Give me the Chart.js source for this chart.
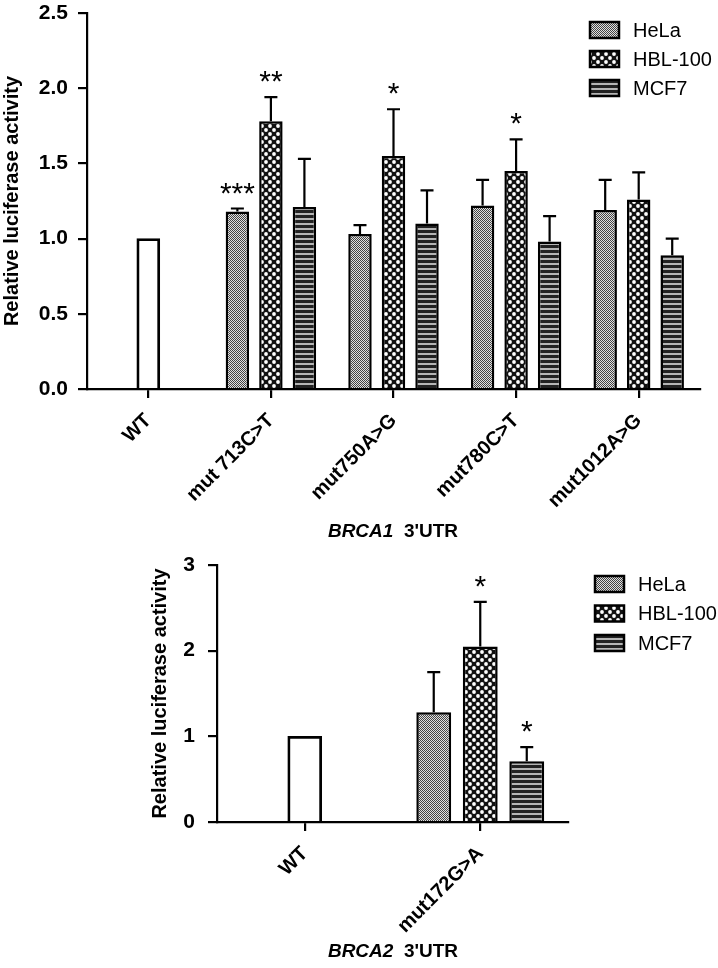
<!DOCTYPE html>
<html>
<head>
<meta charset="utf-8">
<script src="https://cdn.jsdelivr.net/npm/chart.js@4.4.1/dist/chart.umd.min.js"></script>
<style>
  body { margin: 0; background: #fff; }
  #wrap { position: relative; width: 718px; height: 968px; }
  canvas { position: absolute; left: 0; }
  #brca1 { top: 0; }
  #brca2 { top: 530px; }
</style>
</head>
<body>
<div id="wrap">
  <canvas id="brca1" width="718" height="560"></canvas>
  <canvas id="brca2" width="718" height="438"></canvas>
</div>
<script>
const FONT = '"Liberation Sans", Arial, Helvetica, sans-serif';

// BRCA1 3'UTR
const labels1 = ["WT", "mut 713C>T", "mut750A>G", "mut780C>T", "mut1012A>G"];
const wt1 = [1.0, null, null, null, null];
const hela1 = [null, 1.18, 1.03, 1.22, 1.19];
const hela1Err = [null, 0.02, 0.06, 0.17, 0.20];
const hela1Sig = ["", "***", "", "", ""];
const hbl1 = [null, 1.78, 1.55, 1.45, 1.26];
const hbl1Err = [null, 0.16, 0.31, 0.21, 0.18];
const hbl1Sig = ["", "**", "*", "*", ""];
const mcf1 = [null, 1.21, 1.10, 0.98, 0.89];
const mcf1Err = [null, 0.32, 0.22, 0.17, 0.11];
const mcf1Sig = ["", "", "", "", ""];
const yTicks1 = [0, 0.5, 1.0, 1.5, 2.0, 2.5];

// BRCA2 3'UTR
const labels2 = ["WT", "mut172G>A"];
const wt2 = [1.0, null];
const hela2 = [null, 1.28];
const hela2Err = [null, 0.47];
const hela2Sig = ["", ""];
const hbl2 = [null, 2.05];
const hbl2Err = [null, 0.52];
const hbl2Sig = ["", "*"];
const mcf2 = [null, 0.71];
const mcf2Err = [null, 0.165];
const mcf2Sig = ["", "*"];
const yTicks2 = [0, 1, 2, 3];

function tile(ctx, w, h, draw) {
  const c = document.createElement('canvas');
  c.width = w; c.height = h;
  draw(c.getContext('2d'));
  return ctx.createPattern(c, 'repeat');
}

function patterns(ctx) {
  return {
    hela: tile(ctx, 2, 2, g => {
      g.fillStyle = '#e0e0e0'; g.fillRect(0, 0, 2, 2);
      g.fillStyle = '#444'; g.fillRect(0, 0, 1, 1); g.fillRect(1, 1, 1, 1);
    }),
    hbl: tile(ctx, 8, 8, g => {
      g.fillStyle = '#111'; g.fillRect(0, 0, 8, 8);
      g.fillStyle = '#fff';
      [[2, 2], [6, 6]].forEach(p => { g.beginPath(); g.arc(p[0], p[1], 1.9, 0, Math.PI * 2); g.fill(); });
    }),
    mcf: tile(ctx, 1, 5, g => {
      g.fillStyle = '#222'; g.fillRect(0, 0, 1, 5);
      g.fillStyle = '#b5b5b5'; g.fillRect(0, 3, 1, 2);
    })
  };
}

// error bars (upper only) and significance stars
const errorBars = {
  id: 'errorBars',
  afterDatasetsDraw(chart) {
    const ctx = chart.ctx;
    const y = chart.scales.y;
    chart.data.datasets.forEach((ds, i) => {
      if (!ds.errors) return;
      const meta = chart.getDatasetMeta(i);
      ds.data.forEach((v, j) => {
        if (v == null) return;
        const bar = meta.data[j];
        const top = y.getPixelForValue(v + ds.errors[j]);
        ctx.save();
        ctx.strokeStyle = '#000';
        ctx.lineWidth = 2.2;
        ctx.beginPath();
        ctx.moveTo(bar.x, bar.y);
        ctx.lineTo(bar.x, top);
        ctx.moveTo(bar.x - 6.5, top);
        ctx.lineTo(bar.x + 6.5, top);
        ctx.stroke();
        if (ds.stars && ds.stars[j]) {
          ctx.fillStyle = '#000';
          ctx.font = '30px ' + FONT;
          ctx.textAlign = 'center';
          ctx.textBaseline = 'alphabetic';
          ctx.fillText(ds.stars[j], bar.x, top - 6);
        }
        ctx.restore();
      });
    });
  }
};

const patLegend = {
  id: 'patLegend',
  afterDraw(chart, args, opts) {
    const ctx = chart.ctx;
    chart.data.datasets.filter(d => d.inLegend).forEach((ds, k) => {
      const cy = opts.y + k * opts.gap;
      ctx.save();
      ctx.fillStyle = ds.backgroundColor;
      ctx.fillRect(opts.x, cy - 8, 29, 16);
      ctx.strokeStyle = '#000';
      ctx.lineWidth = 2.5;
      ctx.strokeRect(opts.x, cy - 8, 29, 16);
      ctx.fillStyle = '#000';
      ctx.font = '20px ' + FONT;
      ctx.textBaseline = 'middle';
      ctx.fillText(ds.label, opts.x + 43, cy + 1);
      ctx.restore();
    });
  }
};

const geneTitle = {
  id: 'geneTitle',
  afterDraw(chart, args, opts) {
    const ctx = chart.ctx;
    ctx.save();
    ctx.fillStyle = '#000';
    ctx.textBaseline = 'alphabetic';
    const f1 = 'italic bold 19px ' + FONT;
    const f2 = 'bold 19px ' + FONT;
    ctx.font = f1;
    const w1 = ctx.measureText(opts.gene + '  ').width;
    ctx.font = f2;
    const w2 = ctx.measureText(opts.rest).width;
    const x0 = opts.x - (w1 + w2) / 2;
    ctx.font = f1;
    ctx.fillText(opts.gene + '  ', x0, opts.y);
    ctx.font = f2;
    ctx.fillText(opts.rest, x0 + w1, opts.y);
    ctx.restore();
  }
};

function yScale(max, ticks, dec, width, pad) {
  return {
    min: 0,
    max: max,
    afterBuildTicks: s => { s.ticks = ticks.map(v => ({ value: v })); },
    ticks: {
      color: '#000',
      padding: pad,
      font: { family: FONT, size: 21, weight: 'bold' },
      callback: v => Number(v).toFixed(dec)
    },
    grid: { drawOnChartArea: false, drawTicks: true, tickLength: 9, color: '#000', lineWidth: 2.2 },
    border: { color: '#000', width: 2.2 },
    title: {
      display: true,
      text: 'Relative luciferase activity',
      color: '#000',
      padding: 0,
      font: { family: FONT, size: 20, weight: 'bold' }
    },
    afterFit: s => {
      s.width = width;
      // keep the plot area where the reference has it
      s.paddingTop = 0;
      s.paddingBottom = 0;
    }
  };
}

function xScale(height) {
  return {
    ticks: {
      color: '#000',
      padding: 11,
      autoSkip: false,
      minRotation: 45,
      maxRotation: 45,
      font: { family: FONT, size: 20, weight: 'bold' }
    },
    grid: { offset: false, drawOnChartArea: false, drawTicks: true, tickLength: 9, color: '#000', lineWidth: 2.2 },
    border: { color: '#000', width: 2.2 },
    afterFit: s => { s.height = height; }
  };
}

function makeChart(id, cfg) {
  const canvas = document.getElementById(id);
  const p = patterns(canvas.getContext('2d'));
  const common = { borderColor: '#000', borderWidth: 2.5, inLegend: true };
  return new Chart(canvas, {
    type: 'bar',
    data: {
      labels: cfg.labels,
      datasets: [
        { label: 'WT', data: cfg.wt, backgroundColor: '#fff', borderColor: '#000', borderWidth: 2.8,
          grouped: false, barThickness: cfg.wtWidth },
        Object.assign({ label: 'HeLa', data: cfg.hela, errors: cfg.helaErr, stars: cfg.helaSig, backgroundColor: p.hela }, common),
        Object.assign({ label: 'HBL-100', data: cfg.hbl, errors: cfg.hblErr, stars: cfg.hblSig, backgroundColor: p.hbl }, common),
        Object.assign({ label: 'MCF7', data: cfg.mcf, errors: cfg.mcfErr, stars: cfg.mcfSig, backgroundColor: p.mcf }, common)
      ]
    },
    options: {
      responsive: false,
      animation: false,
      categoryPercentage: cfg.catPct,
      barPercentage: cfg.barPct,
      layout: { padding: cfg.padding },
      scales: {
        x: xScale(cfg.xHeight),
        y: yScale(cfg.yMax, cfg.yTicks, cfg.dec, cfg.yWidth, cfg.tickPad)
      },
      plugins: {
        legend: { display: false },
        tooltip: { enabled: false },
        patLegend: cfg.legend,
        geneTitle: cfg.title
      }
    },
    plugins: [errorBars, patLegend, geneTitle]
  });
}

makeChart('brca1', {
  labels: labels1, wt: wt1,
  hela: hela1, helaErr: hela1Err, helaSig: hela1Sig,
  hbl: hbl1, hblErr: hbl1Err, hblSig: hbl1Sig,
  mcf: mcf1, mcfErr: mcf1Err, mcfSig: mcf1Sig,
  yMax: 2.5, yTicks: yTicks1, dec: 1,
  wtWidth: 23, catPct: 0.82, barPct: 0.70,
  padding: { left: 0, top: 13, right: 18, bottom: 0 },
  yWidth: 87, xHeight: 171, tickPad: 10,
  legend: { x: 590, y: 30, gap: 29 },
  title: { gene: 'BRCA1', rest: "3'UTR", x: 393, y: 537 }
});

// second panel canvas starts at page y = 530
makeChart('brca2', {
  labels: labels2, wt: wt2,
  hela: hela2, helaErr: hela2Err, helaSig: hela2Sig,
  hbl: hbl2, hblErr: hbl2Err, hblSig: hbl2Sig,
  mcf: mcf2, mcfErr: mcf2Err, mcfSig: mcf2Sig,
  yMax: 3, yTicks: yTicks2, dec: 0,
  wtWidth: 34, catPct: 0.795, barPct: 0.75,
  padding: { left: 148, top: 35, right: 150, bottom: 0 },
  yWidth: 69, xHeight: 146, tickPad: 13,
  legend: { x: 595, y: 54, gap: 29.5 },
  title: { gene: 'BRCA2', rest: "3'UTR", x: 393, y: 427 }
});
</script>
</body>
</html>
